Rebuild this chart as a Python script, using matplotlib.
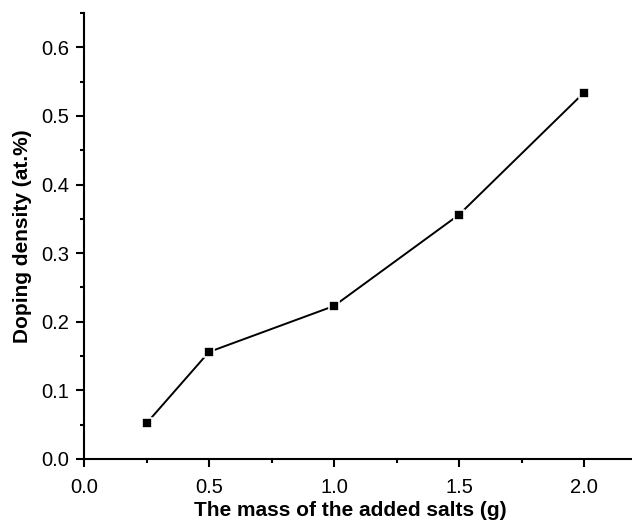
import matplotlib
matplotlib.use("Agg")
import matplotlib.pyplot as plt
from matplotlib.ticker import MultipleLocator

plt.rcParams["font.family"] = ["Liberation Sans", "DejaVu Sans"]

# data
salt_mass = [0.25, 0.5, 1.0, 1.5, 2.0]
doping = [0.052, 0.156, 0.223, 0.356, 0.534]

fig = plt.figure(figsize=(6.32, 5.2), dpi=100)
ax = fig.add_axes([84 / 632, 61 / 520, 550 / 632, 446 / 520])

ax.plot(salt_mass, doping, color="black", lw=1.4, marker="s", ms=7,
        mfc="black", mec="white", mew=1.2)

ax.set_xlim(0, 2.2)
ax.set_ylim(0, 0.65)
ax.xaxis.set_major_locator(MultipleLocator(0.5))
ax.xaxis.set_minor_locator(MultipleLocator(0.25))
ax.yaxis.set_major_locator(MultipleLocator(0.1))
ax.yaxis.set_minor_locator(MultipleLocator(0.05))
ax.xaxis.set_major_formatter(plt.FormatStrFormatter("%.1f"))
ax.yaxis.set_major_formatter(plt.FormatStrFormatter("%.1f"))

for side in ["top", "right"]:
    ax.spines[side].set_visible(False)
for side in ["left", "bottom"]:
    ax.spines[side].set_linewidth(1.5)

ax.tick_params(which="major", direction="out", length=5.5, width=1.5,
               labelsize=14.5)
ax.tick_params(which="minor", direction="out", length=3, width=1.5)
ax.tick_params(axis="x", which="major", pad=8)
ax.tick_params(axis="y", which="major", pad=5)

ax.set_xlabel("The mass of the added salts (g)", fontsize=15,
              fontweight="bold", labelpad=3)
ax.set_ylabel("Doping density (at.%)", fontsize=15, fontweight="bold",
              labelpad=7)
ax.xaxis.set_label_coords(0.484, -0.095)

fig.savefig("out.png", dpi=100)
